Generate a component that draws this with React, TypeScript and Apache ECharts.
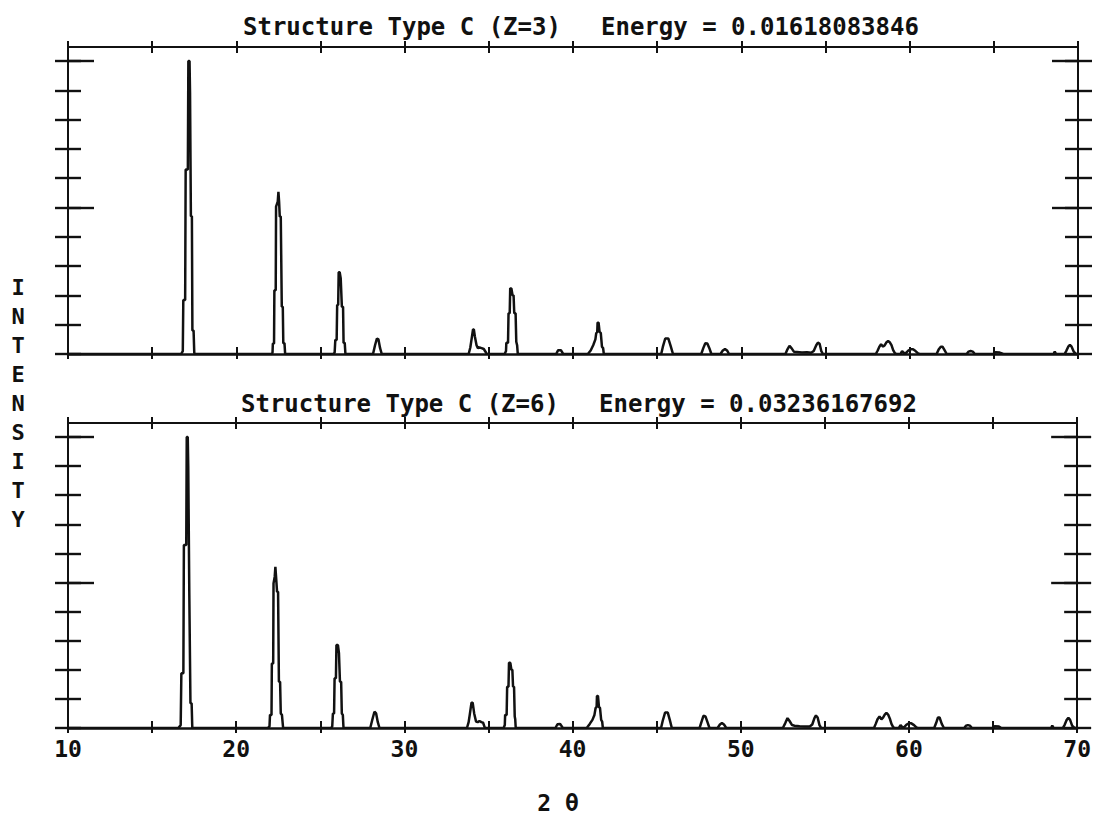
import React, { useEffect, useRef } from "react";
import * as echarts from "echarts";

// 2θ range and ticks
const xMin = 10;
const xMax = 70;
const xTicks = [10, 15, 20, 25, 30, 35, 40, 45, 50, 55, 60, 65, 70];
const xLabels = [10, 20, 30, 40, 50, 60, 70];
const yMax = 10.48;
const yTicks = [0, 1, 2, 3, 4, 5, 6, 7, 8, 9, 10];
const yMajorTicks = [5, 10];

const titleTopLeft = "Structure Type C (Z=3)";
const titleTopRight = "Energy = 0.01618083846";
const titleBottomLeft = "Structure Type C (Z=6)";
const titleBottomRight = "Energy = 0.03236167692";
const yName = "I\nN\nT\nE\nN\nS\nI\nT\nY";
const xName = "2 θ";

// Pattern for Z=3 : [2θ, intensity]
const patternZ3: number[][] = [
  [10, 0],
  [16.72, 0], [16.82, 0.1], [16.85, 1.84], [16.96, 1.84], [16.99, 6.3], [17.12, 6.3], [17.15, 10], [17.22, 10],
  [17.25, 8.9], [17.28, 8.9], [17.3, 4.7], [17.36, 4.7], [17.39, 0.8], [17.46, 0.8], [17.5, 0.05], [17.53, 0],
  [22.1, 0], [22.15, 0.05], [22.17, 0.36], [22.24, 0.36], [22.26, 2.18], [22.34, 2.18], [22.36, 5.03], [22.46, 5.2],
  [22.5, 5.54], [22.54, 5.2], [22.58, 4.69], [22.64, 4.69], [22.7, 1.61], [22.76, 1.61], [22.79, 0.37], [22.86, 0.37], [22.9, 0],
  [25.76, 0], [25.84, 0.05], [25.88, 0.48], [25.96, 0.48], [25.99, 1.67], [26.05, 1.67], [26.08, 2.79], [26.14, 2.79],
  [26.2, 2.59], [26.24, 2.59], [26.27, 1.61], [26.34, 1.61], [26.37, 0.38], [26.44, 0.38], [26.48, 0],
  [28.12, 0], [28.24, 0.3], [28.35, 0.53], [28.44, 0.5], [28.54, 0.2], [28.64, 0],
  [33.8, 0], [33.9, 0.22], [34.0, 0.6], [34.06, 0.84], [34.11, 0.84], [34.17, 0.6], [34.27, 0.3], [34.35, 0.2],
  [34.45, 0.22], [34.57, 0.2], [34.7, 0.17], [34.82, 0.06], [34.88, 0],
  [35.94, 0], [36.02, 0.1], [36.04, 0.38], [36.14, 0.38], [36.17, 1.39], [36.24, 1.39], [36.27, 2.24], [36.34, 2.24],
  [36.41, 2.0], [36.47, 2.0], [36.51, 1.39], [36.59, 1.39], [36.63, 0.42], [36.68, 0.3], [36.72, 0],
  [39.0, 0], [39.12, 0.13], [39.28, 0.13], [39.42, 0],
  [40.88, 0], [41.05, 0.12], [41.2, 0.3], [41.33, 0.5], [41.38, 0.71], [41.44, 0.75], [41.46, 1.07], [41.52, 1.07],
  [41.58, 0.75], [41.65, 0.72], [41.72, 0.25], [41.79, 0.2], [41.83, 0],
  [45.24, 0], [45.34, 0.25], [45.48, 0.53], [45.66, 0.53], [45.8, 0.28], [45.94, 0],
  [47.62, 0], [47.74, 0.2], [47.86, 0.37], [47.98, 0.36], [48.1, 0.2], [48.22, 0],
  [48.76, 0], [48.9, 0.12], [49.03, 0.17], [49.15, 0.12], [49.27, 0],
  [52.62, 0], [52.74, 0.16], [52.86, 0.28], [52.98, 0.2], [53.12, 0.08], [53.3, 0.07], [53.6, 0.05], [53.9, 0.06],
  [54.15, 0.04], [54.3, 0.1], [54.45, 0.3], [54.55, 0.39], [54.65, 0.35], [54.75, 0.1], [54.85, 0],
  [57.99, 0], [58.1, 0.12], [58.2, 0.25], [58.3, 0.33], [58.42, 0.25], [58.52, 0.3], [58.62, 0.4], [58.72, 0.44],
  [58.82, 0.4], [58.92, 0.3], [59.02, 0.13], [59.12, 0.03], [59.22, 0],
  [59.45, 0], [59.55, 0.1], [59.65, 0.03], [59.78, 0.03], [59.92, 0.12], [60.05, 0.16], [60.2, 0.16], [60.35, 0.1], [60.5, 0.02], [60.6, 0],
  [61.6, 0], [61.72, 0.15], [61.85, 0.25], [61.95, 0.25], [62.08, 0.12], [62.2, 0],
  [63.38, 0], [63.5, 0.08], [63.62, 0.1], [63.75, 0.08], [63.88, 0],
  [64.96, 0], [65.1, 0.06], [65.35, 0.05], [65.56, 0],
  [68.55, 0], [68.62, 0.08], [68.7, 0],
  [69.2, 0], [69.3, 0.1], [69.42, 0.25], [69.52, 0.31], [69.62, 0.25], [69.75, 0.08], [69.88, 0],
  [70, 0],
];

// Pattern for Z=6 : [2θ, intensity]
const patternZ6: number[][] = [
  [10, 0],
  [16.56, 0], [16.7, 0.1], [16.74, 1.88], [16.86, 1.88], [16.89, 6.29], [17.03, 6.29], [17.06, 10], [17.12, 10],
  [17.15, 8.98], [17.18, 8.98], [17.21, 4.74], [17.25, 4.74], [17.28, 0.85], [17.35, 0.85], [17.39, 0],
  [21.88, 0], [21.98, 0.05], [22.01, 0.45], [22.1, 0.45], [22.12, 2.22], [22.2, 2.22], [22.22, 4.97], [22.29, 5.2],
  [22.33, 5.54], [22.37, 5.2], [22.43, 4.68], [22.49, 4.68], [22.54, 1.59], [22.61, 1.59], [22.65, 0.5], [22.72, 0.45], [22.79, 0],
  [25.63, 0], [25.71, 0.05], [25.75, 0.5], [25.82, 0.5], [25.85, 1.71], [25.93, 1.71], [25.96, 2.85], [26.05, 2.85],
  [26.11, 2.57], [26.14, 2.57], [26.17, 1.59], [26.24, 1.59], [26.28, 0.5], [26.34, 0.45], [26.38, 0],
  [27.97, 0], [28.1, 0.3], [28.22, 0.56], [28.32, 0.5], [28.42, 0.2], [28.52, 0],
  [33.72, 0], [33.82, 0.2], [33.89, 0.47], [33.99, 0.87], [34.06, 0.87], [34.15, 0.5], [34.26, 0.22], [34.36, 0.2],
  [34.46, 0.24], [34.58, 0.2], [34.68, 0.18], [34.76, 0.05], [34.79, 0],
  [35.9, 0], [35.97, 0.1], [35.99, 0.45], [36.08, 0.45], [36.11, 1.42], [36.19, 1.42], [36.22, 2.24], [36.3, 2.24],
  [36.36, 2.0], [36.42, 2.0], [36.46, 1.42], [36.52, 1.42], [36.56, 0.4], [36.59, 0.3], [36.62, 0],
  [38.98, 0], [39.1, 0.13], [39.26, 0.14], [39.42, 0],
  [40.84, 0], [41.02, 0.14], [41.18, 0.28], [41.3, 0.45], [41.37, 0.69], [41.43, 0.72], [41.45, 1.1], [41.51, 1.1],
  [41.57, 0.72], [41.63, 0.69], [41.7, 0.28], [41.76, 0.22], [41.8, 0],
  [45.26, 0], [45.36, 0.25], [45.5, 0.53], [45.66, 0.53], [45.78, 0.28], [45.9, 0],
  [47.55, 0], [47.66, 0.2], [47.78, 0.42], [47.9, 0.4], [48.02, 0.2], [48.14, 0],
  [48.62, 0], [48.76, 0.12], [48.88, 0.17], [49.0, 0.12], [49.14, 0],
  [52.5, 0], [52.64, 0.16], [52.78, 0.34], [52.9, 0.24], [53.05, 0.1], [53.2, 0.08], [53.5, 0.06], [53.8, 0.05],
  [54.1, 0.05], [54.25, 0.12], [54.38, 0.34], [54.47, 0.43], [54.57, 0.36], [54.68, 0.1], [54.78, 0],
  [57.92, 0], [58.03, 0.15], [58.13, 0.3], [58.25, 0.4], [58.36, 0.3], [58.46, 0.36], [58.56, 0.46], [58.66, 0.52],
  [58.76, 0.46], [58.86, 0.33], [58.96, 0.14], [59.06, 0.03], [59.16, 0],
  [59.4, 0], [59.5, 0.1], [59.6, 0.03], [59.72, 0.03], [59.86, 0.12], [60.0, 0.16], [60.14, 0.16], [60.3, 0.1], [60.44, 0.02], [60.54, 0],
  [61.5, 0], [61.62, 0.18], [61.72, 0.36], [61.82, 0.36], [61.95, 0.14], [62.08, 0],
  [63.28, 0], [63.4, 0.08], [63.5, 0.1], [63.62, 0.08], [63.75, 0],
  [64.98, 0], [65.1, 0.06], [65.35, 0.05], [65.5, 0],
  [68.45, 0], [68.52, 0.08], [68.6, 0],
  [69.15, 0], [69.25, 0.1], [69.38, 0.28], [69.48, 0.35], [69.58, 0.28], [69.7, 0.08], [69.84, 0],
  [70, 0],
];

const INK = "#111";
const FONT = "DejaVu Sans Mono";

function xAxisDef(grid: number, position: string, inside: boolean, length: number, showLine: boolean, lineWidth: number, labels: boolean) {
  return {
    type: "value",
    gridIndex: grid,
    position,
    min: xMin,
    max: xMax,
    axisLine: { show: showLine, onZero: false, lineStyle: { color: INK, width: lineWidth } },
    axisTick: { show: true, inside, length, customValues: xTicks, lineStyle: { color: INK, width: 2 } },
    axisLabel: labels
      ? { show: true, customValues: xLabels, margin: 9, color: INK, fontFamily: FONT, fontWeight: "bold", fontSize: 23 }
      : { show: false },
    splitLine: { show: false },
  };
}

function yAxisDef(grid: number, position: string, inside: boolean, length: number, showLine: boolean, ticks: number[], tickWidth: number) {
  return {
    type: "value",
    gridIndex: grid,
    position,
    min: 0,
    max: yMax,
    axisLine: { show: showLine, onZero: false, lineStyle: { color: INK, width: 2 } },
    axisTick: { show: true, inside, length, customValues: ticks, lineStyle: { color: INK, width: tickWidth } },
    axisLabel: { show: false },
    splitLine: { show: false },
  };
}

export default function App() {
  const ref = useRef<HTMLDivElement>(null);
  useEffect(() => {
    if (!ref.current) return;
    const chart = echarts.init(ref.current, null, { renderer: "svg" });
    const xAxes: any[] = [];
    const yAxes: any[] = [];
    [0, 1].forEach((g) => {
      xAxes.push(xAxisDef(g, "bottom", true, 7, true, 2.6, false));
      xAxes.push(xAxisDef(g, "bottom", false, 5, false, 2, g === 1));
      xAxes.push(xAxisDef(g, "top", true, 6, true, 2, false));
      xAxes.push(xAxisDef(g, "top", false, 6, false, 2, false));
      yAxes.push(yAxisDef(g, "left", true, 13, true, yTicks, 2.4));
      yAxes.push(yAxisDef(g, "left", false, 13, false, yTicks, 2.4));
      yAxes.push(yAxisDef(g, "left", true, 26, false, yMajorTicks, 2.4));
      yAxes.push(yAxisDef(g, "right", true, 13, true, yTicks, 2.4));
      yAxes.push(yAxisDef(g, "right", false, 14, false, yTicks, 2.4));
      yAxes.push(yAxisDef(g, "right", true, 26, false, yMajorTicks, 2.4));
    });
    const textStyle = (text: string, x: number, y: number, size: number, align = "left") => ({
      type: "text",
      x,
      y,
      style: { text, fill: INK, fontFamily: FONT, fontWeight: "bold", fontSize: size, align, verticalAlign: "middle" },
    });
    chart.setOption({
      animation: false,
      backgroundColor: "#fff",
      grid: [
        { left: 68, right: 16, top: 47, height: 307 },
        { left: 68, right: 16, top: 423, height: 305 },
      ],
      xAxis: xAxes,
      yAxis: yAxes,
      series: [
        {
          type: "line",
          xAxisIndex: 0,
          yAxisIndex: 0,
          data: patternZ3,
          showSymbol: false,
          symbol: "none",
          lineStyle: { color: INK, width: 2.5 },
        },
        {
          type: "line",
          xAxisIndex: 4,
          yAxisIndex: 6,
          data: patternZ6,
          showSymbol: false,
          symbol: "none",
          lineStyle: { color: INK, width: 2.5 },
        },
      ],
      graphic: [
        textStyle(titleTopLeft, 243, 27, 24),
        textStyle(titleTopRight, 601, 27, 24),
        textStyle(titleBottomLeft, 241, 404, 24),
        textStyle(titleBottomRight, 599, 404, 24),
        {
          type: "text",
          x: 18,
          y: 403,
          style: { text: yName, fill: INK, fontFamily: FONT, fontWeight: "bold", fontSize: 22, lineHeight: 29, align: "center", verticalAlign: "middle" },
        },
        textStyle(xName, 558, 803, 23, "center"),
      ],
    });
    return () => chart.dispose();
  }, []);
  return <div ref={ref} style={{ position: "absolute", left: 0, top: 0, width: 1094, height: 819, background: "#fff" }} />;
}
